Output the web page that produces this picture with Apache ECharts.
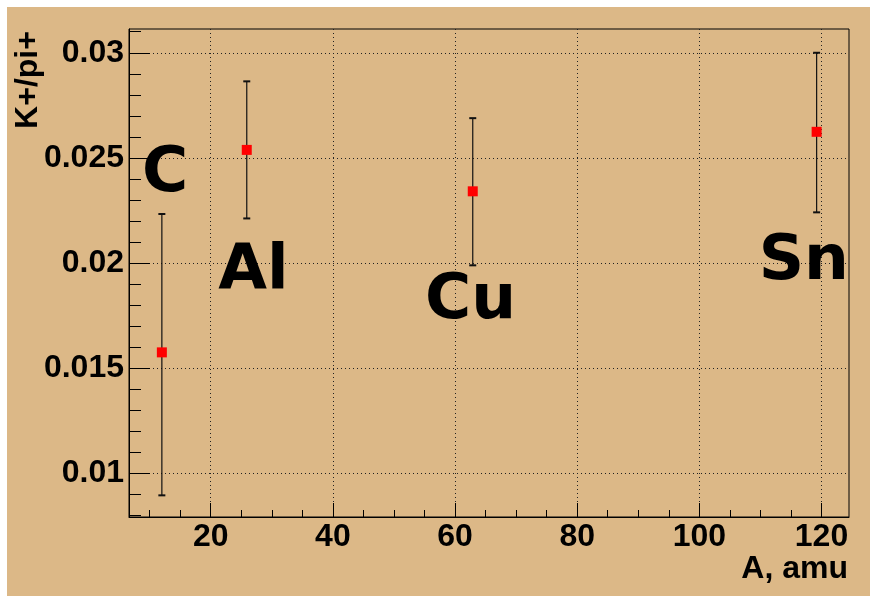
<!DOCTYPE html>
<html>
<head>
<meta charset="utf-8">
<script src="https://cdn.jsdelivr.net/npm/echarts@6/dist/echarts.min.js"></script>
<style>
	html, body { margin: 0; padding: 0; background: #fff; }
	#chart { position: absolute; left: 7px; top: 7px; width: 863px; height: 589px; }
</style>
</head>
<body>
<div id="chart"></div>
<script>
// targets, mass number A and the K+/pi+ ratio with its error bar
let targets = ['C', 'Al', 'Cu', 'Sn'];
let massA = [12.0, 25.9, 62.9, 119.2];
let ratio = [0.01575, 0.02538, 0.02341, 0.02624];
let errLow = [0.00895, 0.02212, 0.01989, 0.02241];
let errHigh = [0.02233, 0.02864, 0.02689, 0.0300];

// where the big element names are written (data coords, centre of the word)
let nameA = [12.55, 27.0, 62.55, 117.1];
let nameY = [0.02418, 0.0196, 0.01815, 0.02003];

// axis ticks
let xMajor = [20, 40, 60, 80, 100, 120];
let xMinor = [10, 15, 25, 30, 35, 45, 50, 55, 65, 70, 75, 85, 90, 95, 105, 110, 115];
let yMajor = [0.01, 0.015, 0.02, 0.025, 0.03];
let yMinor = [0.008, 0.009, 0.011, 0.012, 0.013, 0.014, 0.016, 0.017, 0.018, 0.019,
	0.021, 0.022, 0.023, 0.024, 0.026, 0.027, 0.028, 0.029, 0.031];

let xRange = [6.62, 124.5];
let yRange = [0.00792, 0.03113];

let tickFont = { fontFamily: 'Liberation Sans, Arial, sans-serif', fontWeight: 'bold', fontSize: 32, color: '#000' };
let gridDots = { color: '#222', width: 1, type: [1, 3] };

let myChart = echarts.init(document.getElementById('chart'), null, { renderer: 'canvas' });

myChart.setOption({
	animation: false,
	backgroundColor: '#dcb887',
	grid: {
		left: 122, top: 22, right: 21, bottom: 79,
		show: true, borderColor: '#000', borderWidth: 1,
		containLabel: false, outerBoundsMode: 'none'
	},
	xAxis: [
		{
			type: 'value', position: 'bottom', min: xRange[0], max: xRange[1],
			axisLine: { lineStyle: { color: '#000', width: 1 } },
			axisTick: { inside: true, length: 14, customValues: xMajor, lineStyle: { color: '#000' } },
			axisLabel: Object.assign({ margin: 4, customValues: xMajor }, tickFont),
			splitLine: { show: true, lineStyle: gridDots }
		},
		{
			// minor ticks only
			type: 'value', position: 'bottom', min: xRange[0], max: xRange[1],
			axisLine: { show: false },
			axisTick: { inside: true, length: 7, customValues: xMinor, lineStyle: { color: '#000' } },
			axisLabel: { show: false },
			splitLine: { show: false }
		}
	],
	yAxis: [
		{
			type: 'value', position: 'left', min: yRange[0], max: yRange[1],
			axisLine: { show: true, lineStyle: { color: '#000', width: 1 } },
			axisTick: { show: true, inside: true, length: 21, customValues: yMajor, lineStyle: { color: '#000' } },
			axisLabel: Object.assign({ margin: 5, customValues: yMajor }, tickFont),
			splitLine: { show: true, lineStyle: gridDots }
		},
		{
			type: 'value', position: 'left', min: yRange[0], max: yRange[1],
			axisLine: { show: false },
			axisTick: { show: true, inside: true, length: 12, customValues: yMinor, lineStyle: { color: '#000' } },
			axisLabel: { show: false },
			splitLine: { show: false }
		}
	],
	graphic: [
		{
			type: 'text', x: 841, y: 562.5,
			style: { text: 'A, amu', font: 'bold 32px "Liberation Sans", Arial, sans-serif', fill: '#000', align: 'right', verticalAlign: 'middle' }
		},
		{
			type: 'text', x: 21, y: 73, rotation: Math.PI / 2,
			style: { text: 'K+/pi+', font: 'bold 32px "Liberation Sans", Arial, sans-serif', fill: '#000', align: 'center', verticalAlign: 'middle' }
		}
	],
	series: [
		{
			// vertical error bars with small caps
			type: 'custom',
			xAxisIndex: 0, yAxisIndex: 0,
			silent: true,
			data: massA.map((a, i) => [a, errLow[i], errHigh[i]]),
			renderItem: (params, api) => {
				let lo = api.coord([api.value(0), api.value(1)]);
				let hi = api.coord([api.value(0), api.value(2)]);
				let w = 3.5;
				return {
					type: 'group',
					children: [
						{ type: 'line', shape: { x1: lo[0], y1: lo[1], x2: hi[0], y2: hi[1] }, style: { stroke: '#111', lineWidth: 1.2 } },
						{ type: 'line', shape: { x1: lo[0] - w, y1: lo[1], x2: lo[0] + w, y2: lo[1] }, style: { stroke: '#111', lineWidth: 2 } },
						{ type: 'line', shape: { x1: hi[0] - w, y1: hi[1], x2: hi[0] + w, y2: hi[1] }, style: { stroke: '#111', lineWidth: 2 } }
					]
				};
			}
		},
		{
			type: 'scatter',
			xAxisIndex: 0, yAxisIndex: 0,
			silent: true,
			symbol: 'rect',
			symbolSize: 10,
			itemStyle: { color: '#ff0000', opacity: 1 },
			data: massA.map((a, i) => [a, ratio[i]])
		},
		{
			// element names written on the pad
			type: 'custom',
			xAxisIndex: 0, yAxisIndex: 0,
			silent: true,
			data: nameA.map((a, i) => [a, nameY[i], i]),
			renderItem: (params, api) => {
				let p = api.coord([api.value(0), api.value(1)]);
				return {
					type: 'text',
					x: p[0], y: p[1],
					style: {
						text: targets[api.value(2)],
						font: 'bold 63px "DejaVu Sans", sans-serif',
						fill: '#000', align: 'center', verticalAlign: 'middle'
					}
				};
			}
		}
	]
});
</script>
</body>
</html>
